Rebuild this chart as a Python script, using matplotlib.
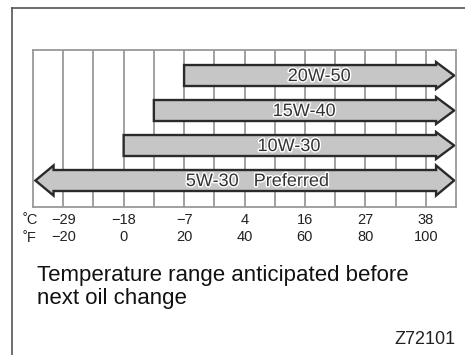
import matplotlib.pyplot as plt
import matplotlib.patheffects as pe
from matplotlib.patches import Polygon

plt.rcParams['font.family'] = ['Liberation Sans', 'DejaVu Sans']

# oil grades, lower temperature limit (deg F), upper limit (deg F)
grades = ['20W-50', '15W-40', '10W-30', '5W-30   Preferred']
temp_from = [20, 10, 0, -30]
temp_to = [110, 110, 110, 110]
both_ends = [False, False, False, True]

# axis ticks: fahrenheit and the matching celsius values
ticks_f = [-20, 0, 20, 40, 60, 80, 100]
ticks_c = [-29, -18, -7, 4, 16, 27, 38]

fig = plt.figure(figsize=(4.65, 3.55), dpi=100)

# outer frame (left and top edges only show)
frame = fig.add_axes([12/465, -0.1, 1.0, 1 - 8/355 + 0.1])
frame.set_xticks([]); frame.set_yticks([])
for s in ['right', 'bottom']:
    frame.spines[s].set_visible(False)
for s in ['left', 'top']:
    frame.spines[s].set_color('#555555')
    frame.spines[s].set_linewidth(1.2)
frame.patch.set_alpha(0)

ax = fig.add_axes([33/465, 1 - 207/355, 423/465, 157/355])
ax.set_xlim(-30, 110)
ax.set_ylim(-0.757, 3.729)
for x in range(-20, 110, 10):
    ax.axvline(x, color='#999999', lw=1.3, zorder=0)
for s in ax.spines.values():
    s.set_color('#999999')
    s.set_linewidth(1.3)
ax.set_yticks([])
ax.tick_params(axis='x', length=0, pad=4)
ax.set_xticks(ticks_f)
ax.set_xticklabels([f'{c}\n{f}'.replace('-', '\u2212') for c, f in zip(ticks_c, ticks_f)],
                   fontsize=10.5, color='#222222', linespacing=1.3)


def arrow(x0, x1, y, double, body=0.3, head=0.385, hl=6.0):
    # polygon for a horizontal arrow, optionally headed at both ends
    if double:
        head = 0.43
    pts = []
    if double:
        pts += [(x0, y), (x0 + hl, y + head), (x0 + hl, y + body)]
    else:
        pts += [(x0, y + body)]
    pts += [(x1 - hl, y + body), (x1 - hl, y + head), (x1, y),
            (x1 - hl, y - head), (x1 - hl, y - body)]
    if double:
        pts += [(x0 + hl, y - body), (x0 + hl, y - head)]
    else:
        pts += [(x0, y - body)]
    return Polygon(pts, closed=True, facecolor='#c6c6c6', edgecolor='#2a2a2a',
                   lw=1.7, joinstyle='miter', zorder=2)


halo = [pe.withStroke(linewidth=2, foreground='white')]
for i, (g, a, b, d) in enumerate(zip(grades, temp_from, temp_to, both_ends)):
    y = len(grades) - 1 - i
    end = b - 0.6
    ax.add_patch(arrow(a + (0.8 if d else 0), end, y, d))
    xc = (a + end) / 2 + (4.5 if d else 0)
    ax.text(xc, y - 0.03, g, ha='center', va='center', fontsize=13,
            color='#333333', path_effects=halo, zorder=3)

fig.text(23/465, 1 - 220/355, '\u02daC', fontsize=10.5, color='#222222', va='center')
fig.text(23/465, 1 - 238/355, '\u02daF', fontsize=10.5, color='#222222', va='center')

fig.text(37/465, 1 - 281/355, 'Temperature range anticipated before',
         fontsize=16, va='baseline', color='#111111')
fig.text(37/465, 1 - 304/355, 'next oil change',
         fontsize=16, va='baseline', color='#111111')
fig.text(455/465, 1 - 339/355, 'Z72101', fontsize=13, ha='right',
         va='center', color='#222222')

fig.savefig('out.png', dpi=100)
